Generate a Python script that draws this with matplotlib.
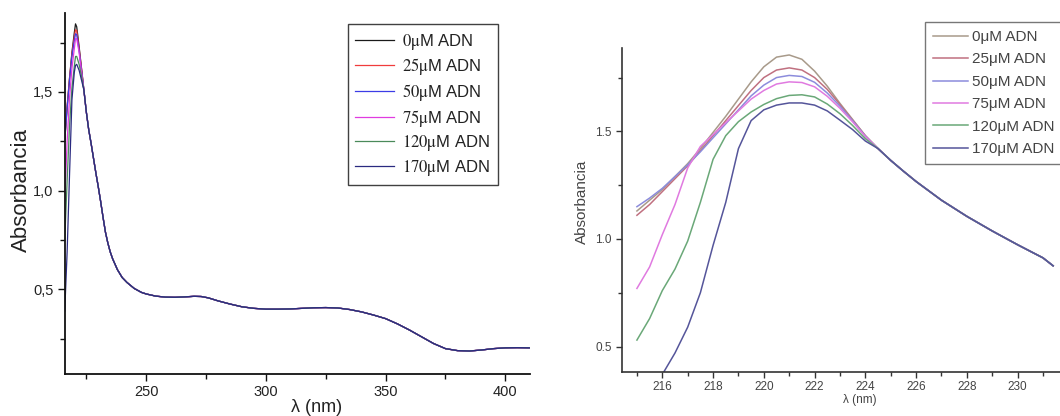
import numpy as np
import matplotlib
matplotlib.use("Agg")
import matplotlib.pyplot as plt
from matplotlib.ticker import MultipleLocator, FuncFormatter

plt.rcParams['font.family'] = ['Liberation Sans', 'DejaVu Sans']
plt.rcParams['mathtext.fontset'] = 'stix'

# ---------------- data ----------------
conc_labels = ["0", "25", "50", "75", "120", "170"]

# Left panel: full spectrum (head differs per series, tail shared)
lam_head = [216, 217, 218, 219, 220, 220.5, 221, 222, 223]
head_0 = [1.25, 1.42, 1.57, 1.70, 1.80, 1.845, 1.83, 1.73, 1.62]
head_25 = [1.26, 1.43, 1.57, 1.69, 1.78, 1.815, 1.81, 1.72, 1.62]
head_50 = [1.26, 1.42, 1.56, 1.68, 1.76, 1.795, 1.79, 1.71, 1.61]
head_75 = [0.95, 1.25, 1.47, 1.62, 1.72, 1.77, 1.77, 1.70, 1.60]
head_120 = [0.75, 1.05, 1.33, 1.52, 1.63, 1.68, 1.68, 1.64, 1.58]
head_170 = [0.39, 0.69, 1.08, 1.46, 1.60, 1.635, 1.64, 1.61, 1.56]

lam_tail = [224, 225, 226, 227, 228, 229, 230, 231, 232, 233, 234, 235, 236, 238,
            240, 242, 245, 248, 250, 254, 258, 262, 266, 270, 273, 276, 280, 285,
            290, 295, 300, 305, 310, 315, 320, 325, 330, 335, 340, 345, 350, 355,
            360, 365, 370, 375, 380, 385, 390, 395, 400, 405, 410]
abs_tail = [1.51, 1.40, 1.31, 1.24, 1.165, 1.09, 1.02, 0.945, 0.865, 0.79, 0.735,
            0.69, 0.655, 0.60, 0.56, 0.535, 0.505, 0.485, 0.477, 0.466, 0.461, 0.460,
            0.462, 0.465, 0.464, 0.457, 0.442, 0.426, 0.412, 0.404, 0.400, 0.400,
            0.401, 0.404, 0.407, 0.408, 0.406, 0.398, 0.386, 0.370, 0.352, 0.325,
            0.294, 0.260, 0.226, 0.200, 0.190, 0.188, 0.193, 0.200, 0.204, 0.205,
            0.204]

# Right panel: zoom on the 215-232 nm band
nan = float("nan")
lam_zoom = [215, 215.5, 216, 216.5, 217, 217.5, 218, 218.5, 219, 219.5, 220,
            220.5, 221, 221.5, 222, 222.5, 223, 223.5, 224]
zoom_0 = [1.13, 1.18, 1.23, 1.29, 1.35, 1.42, 1.495, 1.57, 1.65, 1.73, 1.80,
          1.845, 1.855, 1.835, 1.78, 1.71, 1.63, 1.555, 1.48]
zoom_25 = [1.11, 1.16, 1.22, 1.28, 1.34, 1.41, 1.48, 1.55, 1.62, 1.69, 1.75,
           1.785, 1.795, 1.785, 1.75, 1.695, 1.625, 1.552, 1.48]
zoom_50 = [1.15, 1.19, 1.235, 1.29, 1.345, 1.405, 1.47, 1.535, 1.60, 1.665, 1.715,
           1.75, 1.76, 1.755, 1.728, 1.678, 1.617, 1.549, 1.478]
zoom_75 = [0.77, 0.87, 1.02, 1.16, 1.33, 1.43, 1.485, 1.54, 1.595, 1.65, 1.69,
           1.72, 1.73, 1.727, 1.707, 1.663, 1.607, 1.544, 1.476]
zoom_120 = [0.53, 0.63, 0.76, 0.86, 0.99, 1.17, 1.37, 1.48, 1.545, 1.59, 1.625,
            1.652, 1.667, 1.67, 1.66, 1.627, 1.582, 1.527, 1.466]
zoom_170 = [nan, nan, 0.37, 0.47, 0.59, 0.75, 0.97, 1.17, 1.42, 1.55, 1.60,
            1.622, 1.632, 1.632, 1.622, 1.595, 1.552, 1.508, 1.455]

lam_ztail = [224.5, 225, 225.5, 226, 227, 228, 229, 230, 231, 231.4]
abs_ztail = [1.42, 1.365, 1.315, 1.267, 1.18, 1.105, 1.037, 0.973, 0.912, 0.875]

heads = [head_0, head_25, head_50, head_75, head_120, head_170]
zooms = [zoom_0, zoom_25, zoom_50, zoom_75, zoom_120, zoom_170]

colors_left = ["#1a1a1a", "#f03c3c", "#3c3ce6", "#e03ce0", "#4a8a5a", "#2a2a80"]
colors_right = ["#a89a8a", "#c07080", "#8c8cdc", "#e07ae0", "#6aa878", "#55559a"]

# ---------------- figure ----------------
W, H = 1060, 416
fig = plt.figure(figsize=(W / 100, H / 100), dpi=100)

axL = fig.add_axes([64.5 / W, 1 - 374.3 / H, (530 - 64.5) / W, (374.3 - 13) / H])
axR = fig.add_axes([621.7 / W, 1 - 371.7 / H, (W - 621.7) / W, (371.7 - 48.3) / H])

# Left panel
for i, c in enumerate(conc_labels):
    x = lam_head + lam_tail
    y = heads[i] + abs_tail
    axL.plot(x, y, color=colors_left[i], lw=0.9,
             label=r"$\mathrm{" + c + r"\mu}$M ADN")

axL.set_xlim(215.9, 410.3)
axL.set_ylim(0.07, 1.90)
axL.xaxis.set_major_locator(MultipleLocator(50))
axL.xaxis.set_minor_locator(MultipleLocator(25))
axL.yaxis.set_major_locator(MultipleLocator(0.5))
axL.yaxis.set_minor_locator(MultipleLocator(0.25))
axL.yaxis.set_major_formatter(FuncFormatter(lambda v, p: f"{v:.1f}".replace(".", ",")))
for s in ["top", "right"]:
    axL.spines[s].set_visible(False)
for s in ["left", "bottom"]:
    axL.spines[s].set_linewidth(1.3)
    axL.spines[s].set_color("#111111")
axL.tick_params(which="major", length=5, width=1.0, labelsize=10.5, pad=3,
                color="#111111", labelcolor="#222222")
axL.tick_params(which="minor", length=3.5, width=1.0, color="#111111")
axL.set_ylabel("Absorbancia", fontsize=16, color="#222222")
axL.yaxis.set_label_coords(-0.07, 0.51)
axL.set_xlabel("λ (nm)", fontsize=13, color="#222222")
axL.xaxis.set_label_coords(0.542, -0.068)

legL = axL.legend(loc="upper left", bbox_to_anchor=(0.609, 0.9695), borderaxespad=0,
                  fontsize=12, frameon=True, fancybox=False, edgecolor="#111111",
                  handlelength=2.3, handletextpad=0.5, labelspacing=0.28,
                  borderpad=0.45)
legL.get_frame().set_linewidth(1.0)
for t in legL.get_texts():
    t.set_color("#222222")

# Right panel
for i, c in enumerate(conc_labels):
    x = lam_zoom + lam_ztail
    y = zooms[i] + abs_ztail
    axR.plot(x, y, color=colors_right[i], lw=1.1, label=c + "μM ADN")

axR.set_xlim(214.4, 231.67)
axR.set_ylim(0.383, 1.886)
axR.xaxis.set_major_locator(MultipleLocator(2))
axR.xaxis.set_minor_locator(MultipleLocator(1))
axR.yaxis.set_major_locator(MultipleLocator(0.5))
axR.yaxis.set_minor_locator(MultipleLocator(0.25))
axR.yaxis.set_major_formatter(FuncFormatter(lambda v, p: f"{v:.1f}"))
for s in ["top", "right"]:
    axR.spines[s].set_visible(False)
for s in ["left", "bottom"]:
    axR.spines[s].set_linewidth(1.2)
    axR.spines[s].set_color("#333333")
axR.tick_params(which="major", length=4, width=1.0, labelsize=8.5, pad=3,
                color="#333333", labelcolor="#444444")
axR.tick_params(which="minor", length=3, width=1.0, color="#333333")
axR.set_ylabel("Absorbancia", fontsize=11, color="#444444")
axR.yaxis.set_label_coords(-0.074, 0.525)
axR.set_xlabel("λ (nm)", fontsize=8.5, color="#444444")
axR.xaxis.set_label_coords(0.544, -0.069)

legR = axR.legend(loc="upper left", bbox_to_anchor=(0.692, 1.08), borderaxespad=0,
                  fontsize=11, frameon=True, fancybox=False, edgecolor="#555555",
                  handlelength=2.3, handletextpad=0.25, labelspacing=0.55,
                  borderpad=0.5)
legR.get_frame().set_linewidth(1.0)
for t in legR.get_texts():
    t.set_color("#444444")

fig.savefig("out.png", dpi=100)
